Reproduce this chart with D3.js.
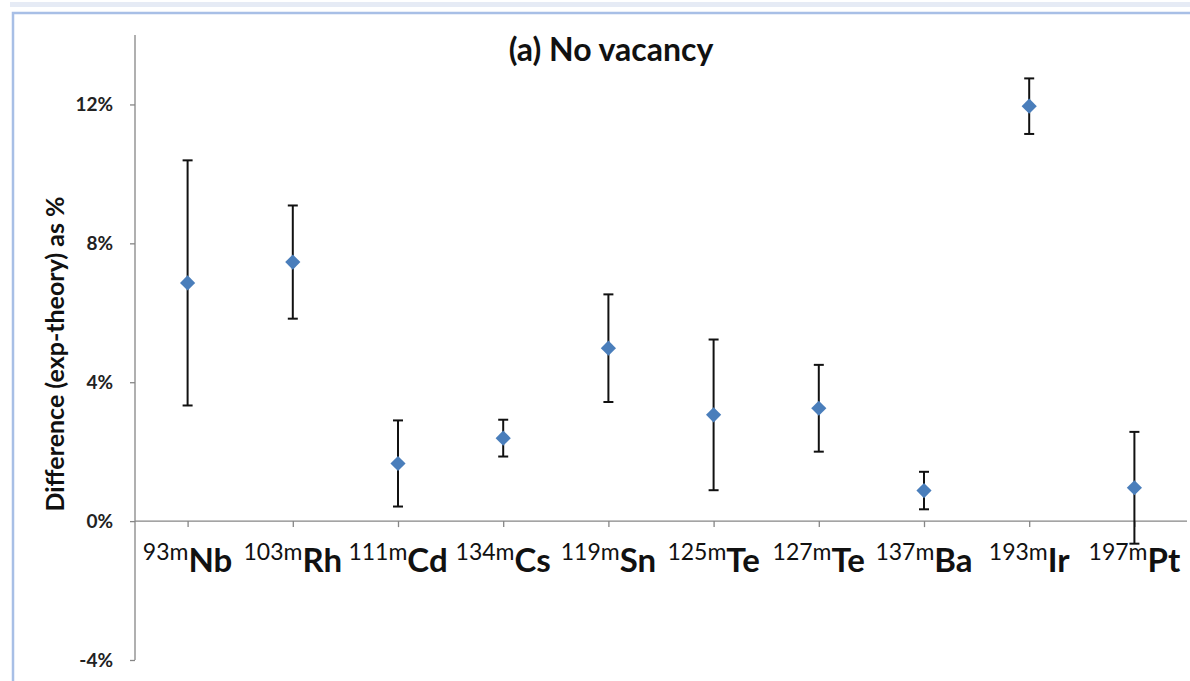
<!DOCTYPE html>
<html>
<head>
<meta charset="utf-8">
<script src="https://cdn.jsdelivr.net/npm/d3@7"></script>
<style>
    body { margin: 0; background: #fff; }
    svg { display: block; font-family: Lato, "Open Sans", sans-serif; }
</style>
</head>
<body>
<svg id="chart" width="1190" height="681"></svg>
<script>
// isotopes along the x axis
const masses = ['93m', '103m', '111m', '134m', '119m', '125m', '127m', '137m', '193m', '197m'];
const elements = ['Nb', 'Rh', 'Cd', 'Cs', 'Sn', 'Te', 'Te', 'Ba', 'Ir', 'Pt'];
// difference (exp - theory) in %, and its error bar (+/-)
const diffs = [6.86, 7.46, 1.66, 2.39, 4.98, 3.06, 3.25, 0.88, 11.95, 0.96];
const errs = [3.53, 1.63, 1.24, 0.53, 1.55, 2.17, 1.25, 0.54, 0.80, 1.61];
const yTicks = [-4, 0, 4, 8, 12];

const keys = masses.map((m, i) => m + elements[i] + i);
const points = keys.map((k, i) => ({key: k, mass: masses[i], el: elements[i], v: diffs[i], e: errs[i]}));

const svg = d3.select('#chart');

// frame lines around the chart area
svg.append('rect').attr('x', 10).attr('y', 2).attr('width', 1180).attr('height', 5)
    .attr('fill', '#e6ebf5');
svg.append('path').attr('d', 'M13,681V13H1190')
    .attr('fill', 'none').attr('stroke', '#a8bfe6').attr('stroke-width', 2.5);

const x = d3.scalePoint().domain(keys).range([135, 1187]).padding(0.5);
const y = d3.scaleLinear().domain([-4, 14]).range([660, 35]);

const axisColor = '#868686';

// y axis
const yAxis = svg.append('g').attr('transform', 'translate(135,0)')
    .call(d3.axisLeft(y).tickValues(yTicks).tickSize(5).tickFormat(d => d + '%'));
yAxis.select('.domain').attr('stroke', axisColor).attr('stroke-width', 1.3)
    .attr('d', `M-0,${y(14)}V${y(-4)}`);
yAxis.selectAll('.tick line').attr('stroke', axisColor).attr('stroke-width', 1.3);
yAxis.selectAll('.tick text')
    .attr('x', -22)
    .attr('font-size', 19).attr('font-weight', 'bold')
    .attr('font-family', 'Lato, sans-serif')
    .attr('fill', '#222');

// x axis at zero
const xAxis = svg.append('g').attr('transform', `translate(0,${y(0)})`)
    .call(d3.axisBottom(x).tickSize(6).tickFormat(''));
xAxis.select('.domain').attr('stroke', axisColor).attr('stroke-width', 1.3)
    .attr('d', 'M135,0H1187');
xAxis.selectAll('.tick line').attr('stroke', axisColor).attr('stroke-width', 1.3);

// category labels: superscript mass number + element symbol
const lbl = svg.append('g').selectAll('text').data(points).join('text')
    .attr('x', d => x(d.key))
    .attr('y', 560)
    .attr('text-anchor', 'middle')
    .attr('fill', '#111');
lbl.append('tspan').attr('font-size', 23).text(d => d.mass);
lbl.append('tspan').attr('font-size', 33).attr('font-weight', 'bold').attr('dy', 12).text(d => d.el);

// error bars
const eb = svg.append('g').attr('stroke', '#111').attr('stroke-width', 2);
eb.selectAll('line.v').data(points).join('line').attr('class', 'v')
    .attr('x1', d => x(d.key)).attr('x2', d => x(d.key))
    .attr('y1', d => y(d.v + d.e)).attr('y2', d => y(d.v - d.e));
eb.selectAll('line.top').data(points).join('line').attr('class', 'top')
    .attr('x1', d => x(d.key) - 5).attr('x2', d => x(d.key) + 5)
    .attr('y1', d => y(d.v + d.e)).attr('y2', d => y(d.v + d.e));
eb.selectAll('line.bot').data(points).join('line').attr('class', 'bot')
    .attr('x1', d => x(d.key) - 5).attr('x2', d => x(d.key) + 5)
    .attr('y1', d => y(d.v - d.e)).attr('y2', d => y(d.v - d.e));

// diamond markers
svg.append('g').selectAll('path').data(points).join('path')
    .attr('d', d3.symbol(d3.symbolSquare, 115))
    .attr('transform', d => `translate(${x(d.key)},${y(d.v)}) rotate(45)`)
    .attr('fill', '#4a7ebb');

// title
svg.append('text').attr('x', 611).attr('y', 61).attr('text-anchor', 'middle')
    .attr('font-size', 32).attr('font-weight', 'bold').attr('fill', '#111')
    .text('(a) No vacancy');

// y axis title
svg.append('text')
    .attr('transform', 'translate(64,354) rotate(-90)')
    .attr('text-anchor', 'middle')
    .attr('font-size', 25).attr('font-weight', 'bold').attr('fill', '#111')
    .text('Difference (exp-theory) as %');
</script>
</body>
</html>
